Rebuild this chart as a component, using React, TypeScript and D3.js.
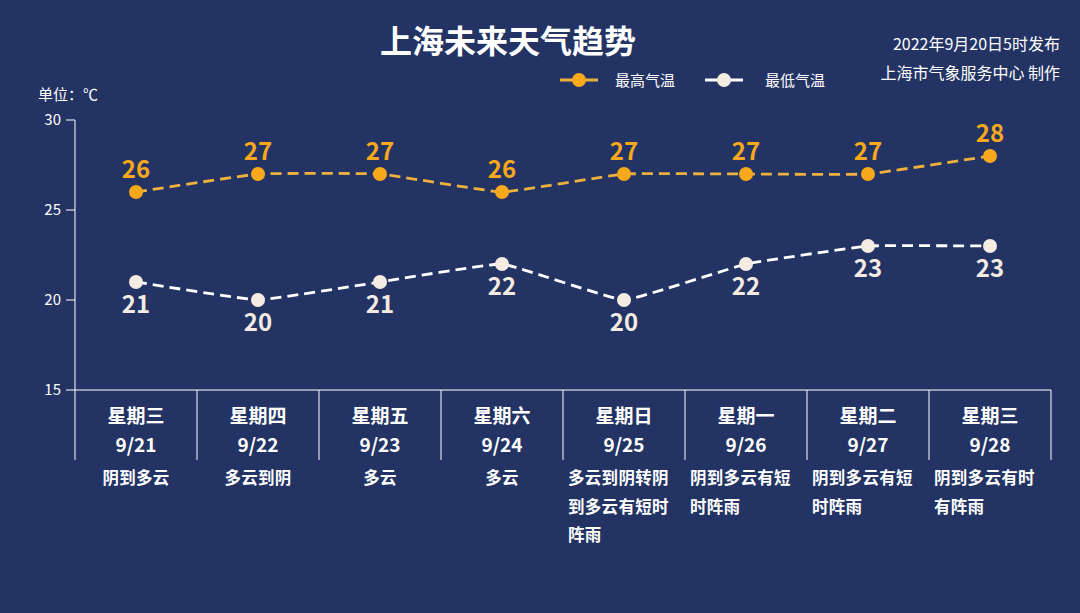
import React from "react";
import * as d3 from "d3";

const days = ["星期三", "星期四", "星期五", "星期六", "星期日", "星期一", "星期二", "星期三"];
const dates = ["9/21", "9/22", "9/23", "9/24", "9/25", "9/26", "9/27", "9/28"];
const weather = [
  "阴到多云",
  "多云到阴",
  "多云",
  "多云",
  "多云到阴转阴到多云有短时阵雨",
  "阴到多云有短时阵雨",
  "阴到多云有短时阵雨",
  "阴到多云有时有阵雨",
];
const highTemps = [26, 27, 27, 26, 27, 27, 27, 28];
const lowTemps = [21, 20, 21, 22, 20, 22, 23, 23];
const yTicks = [15, 20, 25, 30];

const W = 1080;
const H = 613;
const BG = "#233464";
const ORANGE = "#F7A81B";
const ORANGE_LINE = "#EEB13E";
const CREAM = "#F4ECE3";
const FONT = "'Noto Sans CJK SC', 'Noto Sans', sans-serif";

const margin = { left: 75, right: 1051, top: 120, bottom: 390 };

export default function App() {
  const x = d3
    .scaleBand<number>()
    .domain(d3.range(days.length))
    .range([margin.left, margin.right])
    .padding(0);
  const y = d3.scaleLinear().domain([15, 30]).range([margin.bottom, margin.top]);
  const cx = (i: number) => (x(i) as number) + x.bandwidth() / 2;

  const line = d3
    .line<number>()
    .x((_, i) => cx(i))
    .y((d) => y(d))
    .curve(d3.curveCardinal.tension(0.75));

  const boundaries = d3.range(days.length + 1).map((i) =>
    i < days.length ? (x(i) as number) : margin.right
  );

  const perLine = 6;

  return (
    <svg
      width={W}
      height={H}
      style={{ position: "absolute", left: 0, top: 0, display: "block" }}
      fontFamily={FONT}
    >
      <rect x={0} y={0} width={W} height={H} fill={BG} />

      {/* title */}
      <text x={508} y={53} textAnchor="middle" fill="#fff" fontSize={32} fontWeight="bold">
        上海未来天气趋势
      </text>
      <text x={1060} y={50} textAnchor="end" fill="#fff" fontSize={16}>
        2022年9月20日5时发布
      </text>
      <text x={1060} y={79} textAnchor="end" fill="#fff" fontSize={16}>
        上海市气象服务中心 制作
      </text>

      {/* legend */}
      <g>
        <line x1={560} x2={598} y1={80} y2={80} stroke={ORANGE_LINE} strokeWidth={3} />
        <circle cx={579} cy={80} r={7} fill={ORANGE} />
        <text x={615} y={86} fill="#fff" fontSize={15}>
          最高气温
        </text>
        <line x1={705} x2={743} y1={80} y2={80} stroke="#fff" strokeWidth={3} />
        <circle cx={724} cy={80} r={7} fill={CREAM} />
        <text x={765} y={86} fill="#fff" fontSize={15}>
          最低气温
        </text>
      </g>

      {/* unit */}
      <text x={38} y={100} fill="#fff" fontSize={15}>
        单位：℃
      </text>

      {/* y axis */}
      <line x1={margin.left} x2={margin.left} y1={margin.top} y2={margin.bottom} stroke="#fff" strokeWidth={1} />
      {yTicks.map((t) => (
        <g key={t}>
          <line x1={margin.left - 9} x2={margin.left} y1={y(t)} y2={y(t)} stroke="#fff" strokeWidth={1} />
          <text x={margin.left - 14} y={y(t) + 5} textAnchor="end" fill="#fff" fontSize={15}>
            {t}
          </text>
        </g>
      ))}

      {/* x axis */}
      <line x1={margin.left} x2={margin.right} y1={margin.bottom} y2={margin.bottom} stroke="#fff" strokeWidth={1} />
      {boundaries.map((bx, i) => (
        <line key={i} x1={bx} x2={bx} y1={margin.bottom} y2={margin.bottom + 70} stroke="#fff" strokeWidth={1} />
      ))}
      {days.map((d, i) => {
        const lines: string[] = [];
        const w = weather[i];
        for (let k = 0; k < w.length; k += perLine) lines.push(w.slice(k, k + perLine));
        const multi = lines.length > 1;
        const startX = (x(i) as number) + 5;
        return (
          <g key={i}>
            <text x={cx(i)} y={423} textAnchor="middle" fill="#fff" fontSize={19} fontWeight="bold">
              {d}
            </text>
            <text x={cx(i)} y={452} textAnchor="middle" fill="#fff" fontSize={19} fontWeight="bold">
              {dates[i]}
            </text>
            {lines.map((l, j) => (
              <text
                key={j}
                x={multi ? startX : cx(i)}
                y={484 + j * 28.5}
                textAnchor={multi ? "start" : "middle"}
                fill="#fff"
                fontSize={16.5}
                fontWeight="bold"
                style={{ letterSpacing: "0.3px" }}
              >
                {l}
              </text>
            ))}
          </g>
        );
      })}

      {/* lines */}
      <path d={line(highTemps) || ""} fill="none" stroke={ORANGE_LINE} strokeWidth={2.8} strokeDasharray="11 6" />
      <path d={line(lowTemps) || ""} fill="none" stroke="#fff" strokeWidth={2.8} strokeDasharray="11 6" />

      {highTemps.map((v, i) => (
        <g key={"h" + i}>
          <circle cx={cx(i)} cy={y(v)} r={7} fill={ORANGE} />
          <text x={cx(i)} y={y(v) - 14} textAnchor="middle" fill={ORANGE} fontSize={24} fontWeight="bold">
            {v}
          </text>
        </g>
      ))}
      {lowTemps.map((v, i) => (
        <g key={"l" + i}>
          <circle cx={cx(i)} cy={y(v)} r={7} fill={CREAM} />
          <text x={cx(i)} y={y(v) + 31} textAnchor="middle" fill={CREAM} fontSize={24} fontWeight="bold">
            {v}
          </text>
        </g>
      ))}
    </svg>
  );
}
